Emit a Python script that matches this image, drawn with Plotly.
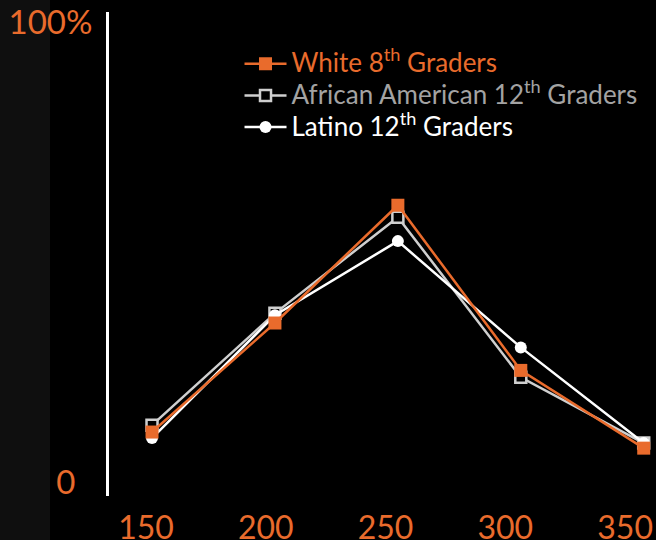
import plotly.graph_objects as go

scores = [150, 200, 250, 300, 350]
white_8th = [10.9, 34.6, 60.2, 24.3, 7.4]
african_american_12th = [12.4, 36.7, 57.6, 22.8, 8.5]
latino_12th = [9.6, 36.3, 52.4, 29.3, 8.5]
y_tick_vals = [0, 100]
y_tick_text = ["0\u00a0\u00a0", "100%"]
x_tick_text = ["150", "200", "250", "300", "350"]

ORANGE = "#E96B2C"
GRAY_LINE = "#CFCFCF"
GRAY_TEXT = "#A3A3A3"
FONT = "Lato"


def label(text, color):
    return f"<span style='color:{color};font-size:26px'>{text}</span>"


fig = go.Figure()

fig.add_trace(go.Scatter(
    x=scores, y=african_american_12th, mode="lines+markers",
    name=label("African American 12<sup>th</sup> Graders", GRAY_TEXT),
    line=dict(color=GRAY_LINE, width=2.5),
    marker=dict(symbol="square", size=11, color="#000000", line=dict(color=GRAY_LINE, width=2.5)),
    cliponaxis=False, legendrank=2,
))
fig.add_trace(go.Scatter(
    x=scores, y=latino_12th, mode="lines+markers",
    name=label("Latino 12<sup>th</sup> Graders", "#FFFFFF"),
    line=dict(color="#FFFFFF", width=2.5),
    marker=dict(symbol="circle", size=12, color="#FFFFFF"),
    cliponaxis=False, legendrank=3,
))
fig.add_trace(go.Scatter(
    x=scores, y=white_8th, mode="lines+markers",
    name=label("White 8<sup>th</sup> Graders", ORANGE),
    line=dict(color=ORANGE, width=2.5),
    marker=dict(symbol="square", size=13, color=ORANGE),
    cliponaxis=False, legendrank=1,
))
# carrier for the category labels axis
fig.add_trace(go.Scatter(
    x=scores, y=[None] * len(scores), xaxis="x2", mode="markers",
    showlegend=False, hoverinfo="skip",
))

fig.update_layout(
    width=656, height=540,
    margin=dict(l=109, r=0, t=12, b=44, autoexpand=False),
    paper_bgcolor="#000000", plot_bgcolor="#000000",
    font=dict(family=FONT, color=ORANGE),
    showlegend=True,
    legend=dict(
        x=0.2386, y=0.936, xanchor="left", yanchor="top",
        bgcolor="rgba(0,0,0,0)", font=dict(size=22, family=FONT),
        tracegroupgap=0, itemwidth=42,
    ),
    xaxis=dict(
        range=[132.5, 355], showgrid=False, zeroline=False,
        showticklabels=False, showline=False, ticks="", automargin=False,
    ),
    xaxis2=dict(
        overlaying="x", side="bottom", range=[134.55, 362.9],
        tickvals=scores, ticktext=x_tick_text, showgrid=False, zeroline=False,
        showline=False, ticks="", tickfont=dict(size=32, color=ORANGE, family=FONT),
        ticklabelstandoff=10, automargin=False,
    ),
    yaxis=dict(
        range=[-3.0, 102.2], tickvals=y_tick_vals, ticktext=y_tick_text,
        showgrid=False, zeroline=False, showline=True, linecolor="#FFFFFF", linewidth=3,
        ticks="", tickfont=dict(size=33, color=ORANGE, family=FONT),
        ticklabelstandoff=7, automargin=False,
    ),
    shapes=[dict(type="rect", xref="paper", yref="paper",
                 x0=-109 / 547, x1=-59 / 547, y0=-1, y1=2,
                 fillcolor="#0F0F0F", line=dict(width=0), layer="below")],
)

fig.write_html(
    "out.html",
    config={"displayModeBar": False},
    post_script="document.body.style.margin='0';document.body.style.background='#000';",
)
